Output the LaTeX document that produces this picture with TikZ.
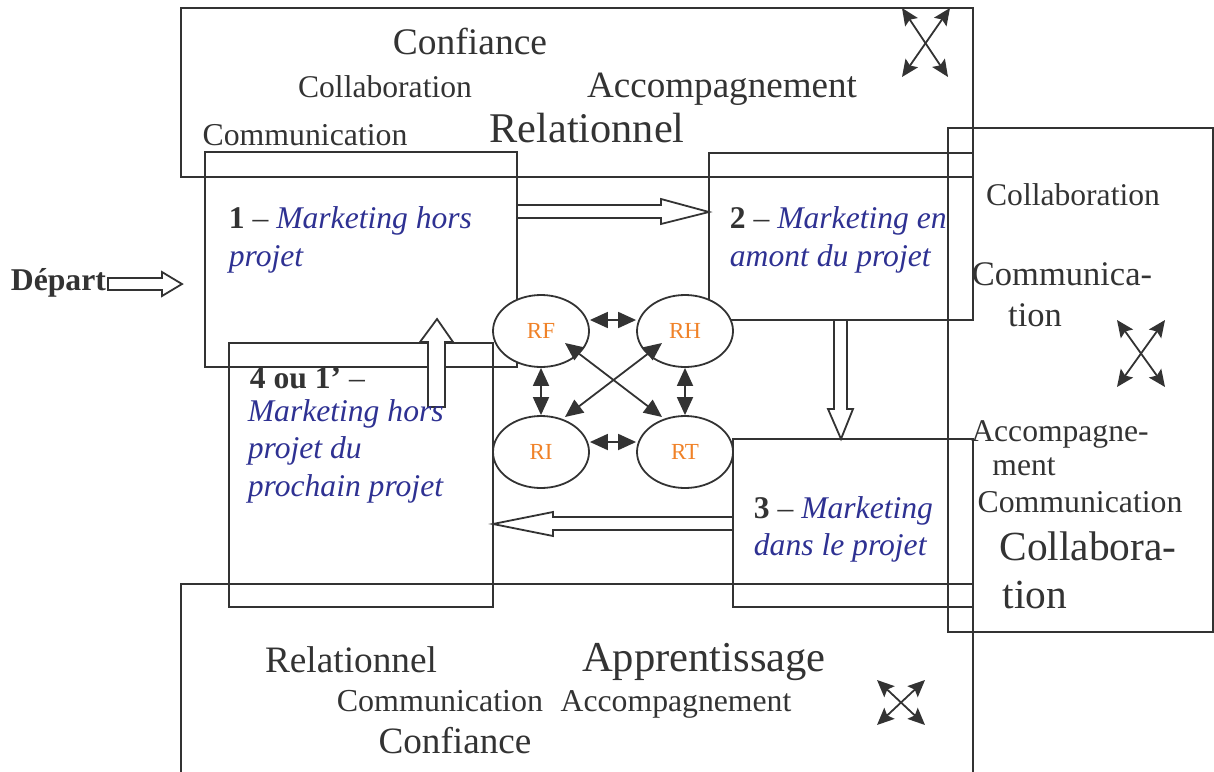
\documentclass[tikz,border=0pt]{standalone}
\usepackage{fontspec}
\setmainfont{Liberation Serif}
\usetikzlibrary{arrows.meta,shapes.geometric,calc}
\definecolor{ink}{RGB}{51,51,51}
\definecolor{mblue}{RGB}{46,49,146}
\definecolor{rorange}{RGB}{240,130,40}
\newcommand{\fs}[1]{\fontsize{#1}{#1}\selectfont}
\newcommand{\mk}[1]{\textcolor{mblue}{\itshape #1}}
\begin{document}
\begin{tikzpicture}[x=1pt,y=-1pt,line width=1.8pt,draw=ink,
  panel/.style={draw=ink,rectangle,inner sep=0pt,outer sep=0pt},
  ell/.style={draw=ink,fill=white,ellipse,minimum width=96pt,minimum height=72pt,inner sep=0pt,text=rorange,font=\fs{23}},
  txt/.style={inner sep=0pt,text=ink,anchor=base},
  ltxt/.style={inner sep=0pt,text=ink,anchor=base west,font=\fs{31.6}},
  hollow/.style={draw=ink,fill=white,line join=miter},
  dbl/.style={{Triangle[length=18pt,width=16pt]}-{Triangle[length=18pt,width=16pt]},draw=ink},
  crs/.style={{Stealth[length=17pt,width=15pt,inset=3pt]}-{Stealth[length=17pt,width=15pt,inset=3pt]},draw=ink}]
\useasboundingbox (0,0) rectangle (1214,771);
\clip (0,0) rectangle (1214,771);
% panels and boxes
\node[panel,minimum width=792pt,minimum height=169pt] (top) at (577,92.5) {};
\node[panel,minimum width=265pt,minimum height=504pt] (right) at (1080.5,380) {};
\node[panel,minimum width=792pt,minimum height=216pt] (bottom) at (577,692) {};
\node[panel,minimum width=312pt,minimum height=215pt] (b1) at (361,259.5) {};
\node[panel,minimum width=264pt,minimum height=167pt] (b2) at (841,236.5) {};
\node[panel,minimum width=264pt,minimum height=264pt] (b4) at (361,475) {};
\node[panel,minimum width=240pt,minimum height=168pt] (b3) at (853,523) {};
% hollow block arrows
\draw[hollow] (b1.east |- 0,205) -- (661,205) -- (661,199) -- (b2.west |- 0,212) -- (661,224) -- (661,218) -- (b1.east |- 0,218) -- cycle;
\draw[hollow] (834,0 |- b2.south) -- (834,409) -- (828,409) -- (841,0 |- b3.north) -- (853,409) -- (847,409) -- (847,0 |- b2.south) -- cycle;
\draw[hollow] (b3.west |- 0,517) -- (553,517) -- (553,512) -- (b4.east |- 0,524) -- (553,536) -- (553,530) -- (b3.west |- 0,530) -- cycle;
\draw[hollow] (428,407) -- (428,342) -- (420,342) -- (437,319) -- (453,342) -- (445,342) -- (445,407) -- cycle;
% Depart
\node[inner sep=0pt,text=ink,anchor=base west,font=\fs{31.7}\bfseries] (dep) at (10,290) {Départ};
\draw[hollow] (108,278) -- (162,278) -- (162,272) -- (182,284) -- (162,296) -- (162,290) -- (108,290) -- cycle;
% ellipses
\node[ell] (RF) at (541,331) {RF};
\node[ell] (RH) at (685,331) {RH};
\node[ell] (RI) at (541,452) {RI};
\node[ell] (RT) at (685,452) {RT};
\draw[dbl] ([yshift=11pt]RF.east) -- ([yshift=11pt]RH.west);
\draw[dbl] ([yshift=10pt]RI.east) -- ([yshift=10pt]RT.west);
\draw[dbl] (RF.south) -- (RI.north);
\draw[dbl] (RH.south) -- (RT.north);
\draw[dbl] ([shift={(24pt,-12pt)}]RF.center) -- ([shift={(-23pt,35pt)}]RT.center);
\draw[dbl] ([shift={(-23pt,-12pt)}]RH.center) -- ([shift={(24pt,35pt)}]RI.center);
% crossed arrows
\draw[crs] (902,8) -- (948,77);
\draw[crs] (950,8) -- (902,77);
\draw[crs] (1117,320) -- (1165,387);
\draw[crs] (1165,320) -- (1117,387);
\draw[crs] (877,680) -- (925,725);
\draw[crs] (925,680) -- (877,725);
% top panel text
\node[txt,font=\fs{37.5}] (t1) at (470,54) {Confiance};
\node[txt,font=\fs{31.6}] (t2) at (385,97) {Collaboration};
\node[txt,font=\fs{37.1}] (t3) at (722,97) {Accompagnement};
\node[txt,font=\fs{31.8}] (t4) at (305,145) {Communication};
\node[txt,font=\fs{42.3}] (t5) at (587,142) {Relationnel};
% right panel text
\node[txt,font=\fs{31.6}] (r1) at (1073,205) {Collaboration};
\node[txt,font=\fs{34.5}] (r2) at (1062,285) {Communica-};
\node[txt,font=\fs{34.5}] (r3) at (1035,326) {tion};
\node[txt,font=\fs{31.6}] (r4) at (1060,441) {Accompagne-};
\node[txt,font=\fs{31.6}] (r5) at (1024,475) {ment};
\node[txt,font=\fs{31.8}] (r6) at (1080,512) {Communication};
\node[txt,font=\fs{41.4}] (r7) at (1088,560) {Collabora-};
\node[txt,font=\fs{41.4}] (r8) at (1035,608) {tion};
% bottom panel text
\node[txt,font=\fs{37.3}] (u1) at (351,672) {Relationnel};
\node[txt,font=\fs{42.6}] (u2) at (704,671) {Apprentissage};
\node[txt,font=\fs{32}] (u3) at (440,711) {Communication};
\node[txt,font=\fs{31.7}] (u4) at (676,711) {Accompagnement};
\node[txt,font=\fs{37.2}] (u5) at (455,753) {Confiance};
% box texts
\node[ltxt] (a1) at (228,228) {\textbf{1} – \mk{Marketing hors}};
\node[ltxt] (a2) at (228,266) {\mk{projet}};
\node[ltxt] (c1) at (729,228) {\textbf{2} – \mk{Marketing en}};
\node[ltxt] (c2) at (729,266) {\mk{amont du projet}};
\node[ltxt] (d1) at (249,388) {\textbf{4 ou 1’} –};
\node[ltxt] (d2) at (247,421) {\mk{Marketing hors}};
\node[ltxt] (d3) at (247,458) {\mk{projet du}};
\node[ltxt] (d4) at (247,496) {\mk{prochain projet}};
\node[ltxt] (e1) at (753,518) {\textbf{3} – \mk{Marketing}};
\node[ltxt] (e2) at (753,555) {\mk{dans le projet}};
\end{tikzpicture}
\end{document}
